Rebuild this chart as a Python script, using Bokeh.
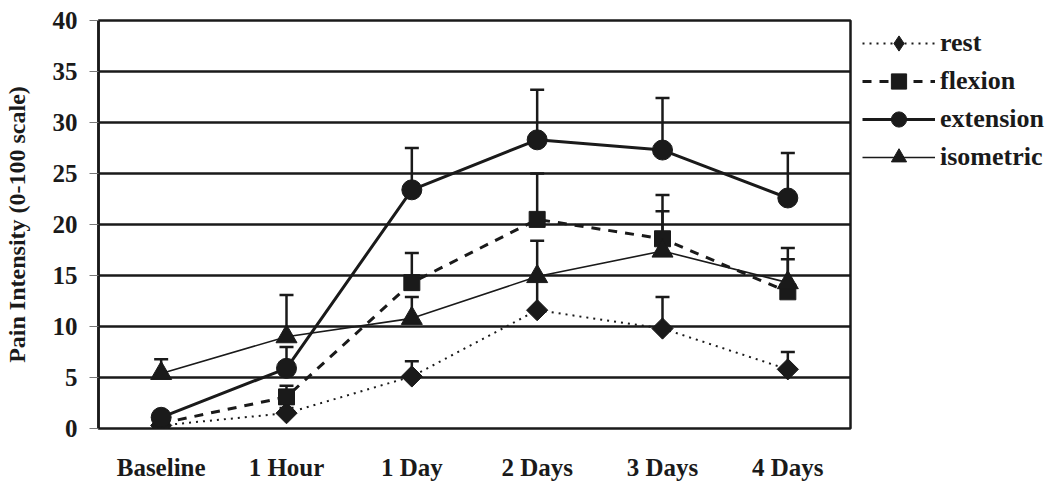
from bokeh.plotting import figure
from bokeh.models import FactorRange, Range1d, Legend, LegendItem, FixedTicker
from bokeh.embed import file_html
from bokeh.resources import INLINE
import math

categories = ["Baseline", "1 Hour", "1 Day", "2 Days", "3 Days", "4 Days"]

rest = [0.3, 1.5, 5.1, 11.6, 9.8, 5.8]
rest_top = [0.6, 2.0, 6.6, 14.5, 12.9, 7.5]

flexion = [0.5, 3.1, 14.3, 20.5, 18.6, 13.4]
flexion_top = [0.8, 4.2, 17.2, 25.0, 22.9, 17.7]

extension = [1.1, 5.9, 23.4, 28.3, 27.3, 22.6]
extension_top = [1.4, 8.0, 27.5, 33.2, 32.4, 27.0]

isometric = [5.4, 9.0, 10.8, 14.9, 17.4, 14.3]
isometric_top = [6.8, 13.1, 12.9, 18.4, 21.3, 16.6]

y_ticks = [0, 5, 10, 15, 20, 25, 30, 35, 40]

FONT = "Liberation Serif"
INK = "#1a1a1a"

p = figure(frame_width=752, frame_height=408,
           x_range=FactorRange(factors=categories, range_padding=0),
           y_range=Range1d(0, 40), output_backend="svg", toolbar_location=None,
           min_border_left=98, min_border_right=195, min_border_top=20, min_border_bottom=54)

p.background_fill_color = "white"
p.border_fill_color = "white"
p.outline_line_color = INK
p.outline_line_width = 2.5

p.xgrid.grid_line_color = None
p.ygrid.grid_line_color = INK
p.ygrid.grid_line_width = 2.5
p.ygrid.ticker = FixedTicker(ticks=y_ticks)

p.yaxis.ticker = FixedTicker(ticks=y_ticks)
p.yaxis.axis_line_color = INK
p.yaxis.axis_line_width = 2.5
p.yaxis.major_tick_out = 9
p.yaxis.major_tick_in = 0
p.yaxis.major_tick_line_color = "#777777"
p.yaxis.minor_tick_line_color = None
p.yaxis.major_label_text_font = FONT
p.yaxis.major_label_text_font_style = "bold"
p.yaxis.major_label_text_font_size = "25px"
p.yaxis.major_label_text_color = INK
p.yaxis.major_label_standoff = 12
p.yaxis.axis_label = "Pain Intensity (0-100 scale)"
p.yaxis.axis_label_text_font = FONT
p.yaxis.axis_label_text_font_style = "bold"
p.yaxis.axis_label_text_font_size = "24px"
p.yaxis.axis_label_text_color = INK
p.yaxis.axis_label_standoff = 20

p.xaxis.axis_line_color = None
p.xaxis.major_tick_line_color = None
p.xaxis.minor_tick_line_color = None
p.xaxis.major_label_text_font = FONT
p.xaxis.major_label_text_font_style = "bold"
p.xaxis.major_label_text_font_size = "25px"
p.xaxis.major_label_text_color = INK
p.xaxis.major_label_standoff = 19

series = [
    ("rest", rest, rest_top, dict(line_width=2, line_dash="2 5"),
     dict(marker="square", size=15, angle=math.pi / 4)),
    ("flexion", flexion, flexion_top, dict(line_width=3, line_dash="9 8"),
     dict(marker="square", size=16)),
    ("extension", extension, extension_top, dict(line_width=3),
     dict(marker="circle", size=20)),
    ("isometric", isometric, isometric_top, dict(line_width=1.6),
     dict(marker="triangle", size=21)),
]

items = []
line_rs = {}
for name, vals, tops, lstyle, mstyle in series:
    line_rs[name] = p.line(categories, vals, line_color=INK, **lstyle)

for name, vals, tops, lstyle, mstyle in series:
    p.segment(x0=categories, y0=vals, x1=categories, y1=tops, line_color=INK, line_width=2.5)
    p.scatter(categories, tops, marker="dash", size=14, line_color=INK, line_width=2.5)

for name, vals, tops, lstyle, mstyle in series:
    if name == "rest":
        # diamond key for the legend; drawn beneath (and hidden by) the rotated squares
        key = p.scatter(categories, vals, marker="diamond", size=16, fill_color=INK, line_color=INK)
        p.scatter(categories, vals, fill_color=INK, line_color=INK, **mstyle)
    else:
        key = p.scatter(categories, vals, fill_color=INK, line_color=INK, **mstyle)
    items.append(LegendItem(label=name, renderers=[line_rs[name], key]))

legend = Legend(items=items, location=(12, 252), orientation="vertical",
                glyph_width=73, glyph_height=38, spacing=0, label_standoff=5,
                padding=0, margin=0, border_line_color=None, background_fill_alpha=0,
                label_text_font=FONT, label_text_font_style="bold",
                label_text_font_size="26px", label_text_color=INK)
p.add_layout(legend, "right")

open("out.html", "w").write(file_html(p, INLINE))
